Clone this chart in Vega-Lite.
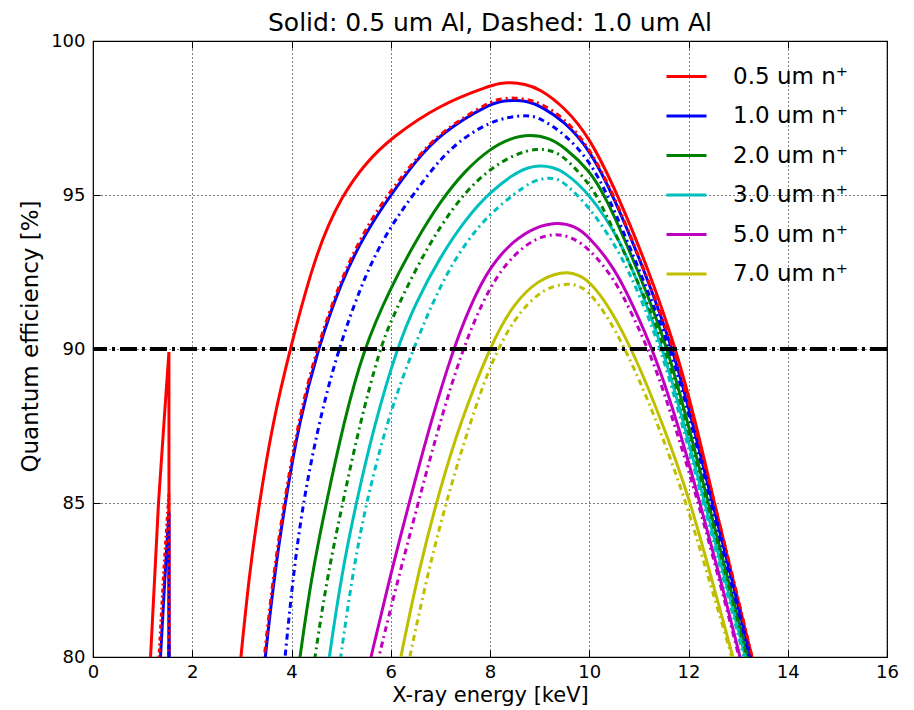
{
"$schema": "https://vega.github.io/schema/vega-lite/v6.json",
"width": 794, "height": 616,
"autosize": {"type": "none"},
"padding": {"left": 93, "top": 41, "right": 27, "bottom": 53},
"background": "white",
"title": {"text": "Solid: 0.5 um Al, Dashed: 1.0 um Al", "fontSize": 25, "font": "DejaVu Sans", "fontWeight": "normal", "color": "black", "offset": -4},
"config": {"font": "DejaVu Sans", "view": {"stroke": "black", "strokeWidth": 1.2}},
"data": {"values": [
{"s":"0.5","al":"0.5","p":"a","E":1.08,"Q":77.5},{"s":"0.5","al":"0.5","p":"a","E":1.16,"Q":80},{"s":"0.5","al":"0.5","p":"a","E":1.32,"Q":85},{"s":"0.5","al":"0.5","p":"a","E":1.43,"Q":87.6},{"s":"0.5","al":"0.5","p":"a","E":1.53,"Q":89.9},{"s":"0.5","al":"0.5","p":"a","E":1.535,"Q":70},
{"s":"0.5","al":"0.5","p":"b","E":2.9,"Q":78.7},{"s":"0.5","al":"0.5","p":"b","E":2.98,"Q":80},{"s":"0.5","al":"0.5","p":"b","E":3.15,"Q":82.7},{"s":"0.5","al":"0.5","p":"b","E":3.35,"Q":85},{"s":"0.5","al":"0.5","p":"b","E":3.62,"Q":87.6},{"s":"0.5","al":"0.5","p":"b","E":3.97,"Q":90},{"s":"0.5","al":"0.5","p":"b","E":4.5,"Q":93.2},{"s":"0.5","al":"0.5","p":"b","E":5.02,"Q":95},{"s":"0.5","al":"0.5","p":"b","E":5.5,"Q":96.05},{"s":"0.5","al":"0.5","p":"b","E":6.0,"Q":96.85},{"s":"0.5","al":"0.5","p":"b","E":7.0,"Q":97.95},{"s":"0.5","al":"0.5","p":"b","E":8.0,"Q":98.55},{"s":"0.5","al":"0.5","p":"b","E":8.2,"Q":98.63},{"s":"0.5","al":"0.5","p":"b","E":8.4,"Q":98.66},{"s":"0.5","al":"0.5","p":"b","E":8.7,"Q":98.6},{"s":"0.5","al":"0.5","p":"b","E":9.0,"Q":98.45},{"s":"0.5","al":"0.5","p":"b","E":9.5,"Q":97.85},{"s":"0.5","al":"0.5","p":"b","E":10.0,"Q":96.9},{"s":"0.5","al":"0.5","p":"b","E":10.58,"Q":95},{"s":"0.5","al":"0.5","p":"b","E":11.2,"Q":92.55},{"s":"0.5","al":"0.5","p":"b","E":11.75,"Q":90},{"s":"0.5","al":"0.5","p":"b","E":12.15,"Q":87.6},{"s":"0.5","al":"0.5","p":"b","E":12.52,"Q":85},{"s":"0.5","al":"0.5","p":"b","E":12.9,"Q":82.5},{"s":"0.5","al":"0.5","p":"b","E":13.28,"Q":80},{"s":"0.5","al":"0.5","p":"b","E":13.4,"Q":79.2},

{"s":"1.0","al":"0.5","p":"a","E":1.30,"Q":78.2},{"s":"1.0","al":"0.5","p":"a","E":1.36,"Q":80},{"s":"1.0","al":"0.5","p":"a","E":1.45,"Q":82.6},{"s":"1.0","al":"0.5","p":"a","E":1.53,"Q":84.7},{"s":"1.0","al":"0.5","p":"a","E":1.535,"Q":70},
{"s":"1.0","al":"0.5","p":"b","E":3.38,"Q":78.55},{"s":"1.0","al":"0.5","p":"b","E":3.47,"Q":80},{"s":"1.0","al":"0.5","p":"b","E":3.65,"Q":82.6},{"s":"1.0","al":"0.5","p":"b","E":3.87,"Q":85},{"s":"1.0","al":"0.5","p":"b","E":4.15,"Q":87.6},{"s":"1.0","al":"0.5","p":"b","E":4.53,"Q":90},{"s":"1.0","al":"0.5","p":"b","E":5.0,"Q":92.2},{"s":"1.0","al":"0.5","p":"b","E":5.5,"Q":93.8},{"s":"1.0","al":"0.5","p":"b","E":6.0,"Q":95.0},{"s":"1.0","al":"0.5","p":"b","E":6.5,"Q":96.1},{"s":"1.0","al":"0.5","p":"b","E":7.0,"Q":97.0},{"s":"1.0","al":"0.5","p":"b","E":8.0,"Q":97.98},{"s":"1.0","al":"0.5","p":"b","E":8.3,"Q":98.06},{"s":"1.0","al":"0.5","p":"b","E":8.55,"Q":98.08},{"s":"1.0","al":"0.5","p":"b","E":8.8,"Q":98.02},{"s":"1.0","al":"0.5","p":"b","E":9.0,"Q":97.9},{"s":"1.0","al":"0.5","p":"b","E":9.5,"Q":97.4},{"s":"1.0","al":"0.5","p":"b","E":10.0,"Q":96.5},{"s":"1.0","al":"0.5","p":"b","E":10.48,"Q":95},{"s":"1.0","al":"0.5","p":"b","E":11.1,"Q":92.6},{"s":"1.0","al":"0.5","p":"b","E":11.69,"Q":90},{"s":"1.0","al":"0.5","p":"b","E":12.1,"Q":87.5},{"s":"1.0","al":"0.5","p":"b","E":12.48,"Q":85},{"s":"1.0","al":"0.5","p":"b","E":12.88,"Q":82.5},{"s":"1.0","al":"0.5","p":"b","E":13.25,"Q":80},{"s":"1.0","al":"0.5","p":"b","E":13.37,"Q":79.2},

{"s":"2.0","al":"0.5","p":"b","E":4.08,"Q":78.9},{"s":"2.0","al":"0.5","p":"b","E":4.17,"Q":80},{"s":"2.0","al":"0.5","p":"b","E":4.4,"Q":82.6},{"s":"2.0","al":"0.5","p":"b","E":4.7,"Q":85},{"s":"2.0","al":"0.5","p":"b","E":5.05,"Q":87.6},{"s":"2.0","al":"0.5","p":"b","E":5.45,"Q":90},{"s":"2.0","al":"0.5","p":"b","E":6.0,"Q":92.0},{"s":"2.0","al":"0.5","p":"b","E":6.5,"Q":93.5},{"s":"2.0","al":"0.5","p":"b","E":7.0,"Q":94.8},{"s":"2.0","al":"0.5","p":"b","E":7.5,"Q":95.8},{"s":"2.0","al":"0.5","p":"b","E":8.0,"Q":96.5},{"s":"2.0","al":"0.5","p":"b","E":8.4,"Q":96.84},{"s":"2.0","al":"0.5","p":"b","E":8.81,"Q":96.97},{"s":"2.0","al":"0.5","p":"b","E":9.2,"Q":96.85},{"s":"2.0","al":"0.5","p":"b","E":9.5,"Q":96.55},{"s":"2.0","al":"0.5","p":"b","E":10.0,"Q":95.81},{"s":"2.0","al":"0.5","p":"b","E":10.32,"Q":95},{"s":"2.0","al":"0.5","p":"b","E":11.0,"Q":92.5},{"s":"2.0","al":"0.5","p":"b","E":11.59,"Q":90},{"s":"2.0","al":"0.5","p":"b","E":12.0,"Q":87.5},{"s":"2.0","al":"0.5","p":"b","E":12.4,"Q":85},{"s":"2.0","al":"0.5","p":"b","E":12.8,"Q":82.5},{"s":"2.0","al":"0.5","p":"b","E":13.2,"Q":80},{"s":"2.0","al":"0.5","p":"b","E":13.32,"Q":79.2},

{"s":"3.0","al":"0.5","p":"b","E":4.67,"Q":78.9},{"s":"3.0","al":"0.5","p":"b","E":4.76,"Q":80},{"s":"3.0","al":"0.5","p":"b","E":5.0,"Q":82.6},{"s":"3.0","al":"0.5","p":"b","E":5.3,"Q":85},{"s":"3.0","al":"0.5","p":"b","E":5.68,"Q":87.6},{"s":"3.0","al":"0.5","p":"b","E":6.12,"Q":90},{"s":"3.0","al":"0.5","p":"b","E":6.5,"Q":91.5},{"s":"3.0","al":"0.5","p":"b","E":7.0,"Q":93.0},{"s":"3.0","al":"0.5","p":"b","E":7.5,"Q":94.2},{"s":"3.0","al":"0.5","p":"b","E":8.0,"Q":95.1},{"s":"3.0","al":"0.5","p":"b","E":8.5,"Q":95.7},{"s":"3.0","al":"0.5","p":"b","E":8.75,"Q":95.89},{"s":"3.0","al":"0.5","p":"b","E":9.0,"Q":95.96},{"s":"3.0","al":"0.5","p":"b","E":9.25,"Q":95.91},{"s":"3.0","al":"0.5","p":"b","E":9.5,"Q":95.75},{"s":"3.0","al":"0.5","p":"b","E":10.0,"Q":95.06},{"s":"3.0","al":"0.5","p":"b","E":10.6,"Q":93.6},{"s":"3.0","al":"0.5","p":"b","E":11.0,"Q":92.1},{"s":"3.0","al":"0.5","p":"b","E":11.49,"Q":90},{"s":"3.0","al":"0.5","p":"b","E":11.92,"Q":87.5},{"s":"3.0","al":"0.5","p":"b","E":12.33,"Q":85},{"s":"3.0","al":"0.5","p":"b","E":12.74,"Q":82.5},{"s":"3.0","al":"0.5","p":"b","E":13.15,"Q":80},{"s":"3.0","al":"0.5","p":"b","E":13.27,"Q":79.2},

{"s":"5.0","al":"0.5","p":"b","E":5.5,"Q":79.25},{"s":"5.0","al":"0.5","p":"b","E":5.6,"Q":80},{"s":"5.0","al":"0.5","p":"b","E":6.0,"Q":82.7},{"s":"5.0","al":"0.5","p":"b","E":6.37,"Q":85},{"s":"5.0","al":"0.5","p":"b","E":6.8,"Q":87.6},{"s":"5.0","al":"0.5","p":"b","E":7.26,"Q":90},{"s":"5.0","al":"0.5","p":"b","E":7.6,"Q":91.4},{"s":"5.0","al":"0.5","p":"b","E":8.0,"Q":92.7},{"s":"5.0","al":"0.5","p":"b","E":8.5,"Q":93.55},{"s":"5.0","al":"0.5","p":"b","E":8.9,"Q":93.95},{"s":"5.0","al":"0.5","p":"b","E":9.35,"Q":94.12},{"s":"5.0","al":"0.5","p":"b","E":9.7,"Q":94.0},{"s":"5.0","al":"0.5","p":"b","E":10.0,"Q":93.65},{"s":"5.0","al":"0.5","p":"b","E":10.5,"Q":92.65},{"s":"5.0","al":"0.5","p":"b","E":10.86,"Q":91.5},{"s":"5.0","al":"0.5","p":"b","E":11.33,"Q":89.8},{"s":"5.0","al":"0.5","p":"b","E":11.8,"Q":87.5},{"s":"5.0","al":"0.5","p":"b","E":12.23,"Q":85},{"s":"5.0","al":"0.5","p":"b","E":12.65,"Q":82.5},{"s":"5.0","al":"0.5","p":"b","E":13.04,"Q":80},{"s":"5.0","al":"0.5","p":"b","E":13.16,"Q":79.2},

{"s":"7.0","al":"0.5","p":"b","E":6.08,"Q":79.0},{"s":"7.0","al":"0.5","p":"b","E":6.2,"Q":80},{"s":"7.0","al":"0.5","p":"b","E":6.59,"Q":83.0},{"s":"7.0","al":"0.5","p":"b","E":7.0,"Q":85.5},{"s":"7.0","al":"0.5","p":"b","E":7.4,"Q":87.6},{"s":"7.0","al":"0.5","p":"b","E":8.0,"Q":90.1},{"s":"7.0","al":"0.5","p":"b","E":8.5,"Q":91.55},{"s":"7.0","al":"0.5","p":"b","E":9.0,"Q":92.25},{"s":"7.0","al":"0.5","p":"b","E":9.3,"Q":92.43},{"s":"7.0","al":"0.5","p":"b","E":9.55,"Q":92.5},{"s":"7.0","al":"0.5","p":"b","E":9.8,"Q":92.4},{"s":"7.0","al":"0.5","p":"b","E":10.0,"Q":92.2},{"s":"7.0","al":"0.5","p":"b","E":10.4,"Q":91.4},{"s":"7.0","al":"0.5","p":"b","E":10.92,"Q":89.8},{"s":"7.0","al":"0.5","p":"b","E":11.5,"Q":87.5},{"s":"7.0","al":"0.5","p":"b","E":12.05,"Q":85},{"s":"7.0","al":"0.5","p":"b","E":12.47,"Q":82.5},{"s":"7.0","al":"0.5","p":"b","E":12.9,"Q":80},{"s":"7.0","al":"0.5","p":"b","E":13.02,"Q":79.2},

{"s":"0.5","al":"1.0","p":"a","E":1.27,"Q":78.2},{"s":"0.5","al":"1.0","p":"a","E":1.33,"Q":80},{"s":"0.5","al":"1.0","p":"a","E":1.43,"Q":82.9},{"s":"0.5","al":"1.0","p":"a","E":1.53,"Q":85.3},{"s":"0.5","al":"1.0","p":"a","E":1.535,"Q":70},
{"s":"0.5","al":"1.0","p":"b","E":3.36,"Q":78.6},{"s":"0.5","al":"1.0","p":"b","E":3.45,"Q":80},{"s":"0.5","al":"1.0","p":"b","E":3.63,"Q":82.6},{"s":"0.5","al":"1.0","p":"b","E":3.85,"Q":85},{"s":"0.5","al":"1.0","p":"b","E":4.13,"Q":87.6},{"s":"0.5","al":"1.0","p":"b","E":4.5,"Q":90},{"s":"0.5","al":"1.0","p":"b","E":5.0,"Q":92.3},{"s":"0.5","al":"1.0","p":"b","E":5.5,"Q":93.95},{"s":"0.5","al":"1.0","p":"b","E":6.0,"Q":95.15},{"s":"0.5","al":"1.0","p":"b","E":6.5,"Q":96.15},{"s":"0.5","al":"1.0","p":"b","E":7.0,"Q":97.05},{"s":"0.5","al":"1.0","p":"b","E":8.0,"Q":98.05},{"s":"0.5","al":"1.0","p":"b","E":8.25,"Q":98.13},{"s":"0.5","al":"1.0","p":"b","E":8.5,"Q":98.16},{"s":"0.5","al":"1.0","p":"b","E":8.75,"Q":98.1},{"s":"0.5","al":"1.0","p":"b","E":9.0,"Q":98.0},{"s":"0.5","al":"1.0","p":"b","E":9.5,"Q":97.5},{"s":"0.5","al":"1.0","p":"b","E":10.0,"Q":96.55},{"s":"0.5","al":"1.0","p":"b","E":10.5,"Q":95},{"s":"0.5","al":"1.0","p":"b","E":11.1,"Q":92.6},{"s":"0.5","al":"1.0","p":"b","E":11.72,"Q":90},{"s":"0.5","al":"1.0","p":"b","E":12.13,"Q":87.5},{"s":"0.5","al":"1.0","p":"b","E":12.52,"Q":85},{"s":"0.5","al":"1.0","p":"b","E":12.91,"Q":82.5},{"s":"0.5","al":"1.0","p":"b","E":13.28,"Q":80},{"s":"0.5","al":"1.0","p":"b","E":13.4,"Q":79.2},

{"s":"1.0","al":"1.0","p":"a","E":1.50,"Q":79.1},{"s":"1.0","al":"1.0","p":"a","E":1.53,"Q":80.4},{"s":"1.0","al":"1.0","p":"a","E":1.535,"Q":70},
{"s":"1.0","al":"1.0","p":"b","E":3.78,"Q":78.5},{"s":"1.0","al":"1.0","p":"b","E":3.87,"Q":80},{"s":"1.0","al":"1.0","p":"b","E":4.03,"Q":82.6},{"s":"1.0","al":"1.0","p":"b","E":4.23,"Q":85},{"s":"1.0","al":"1.0","p":"b","E":4.55,"Q":87.6},{"s":"1.0","al":"1.0","p":"b","E":4.94,"Q":90},{"s":"1.0","al":"1.0","p":"b","E":5.5,"Q":92.5},{"s":"1.0","al":"1.0","p":"b","E":6.0,"Q":94.0},{"s":"1.0","al":"1.0","p":"b","E":6.45,"Q":95},{"s":"1.0","al":"1.0","p":"b","E":7.0,"Q":96.2},{"s":"1.0","al":"1.0","p":"b","E":7.5,"Q":96.9},{"s":"1.0","al":"1.0","p":"b","E":8.0,"Q":97.36},{"s":"1.0","al":"1.0","p":"b","E":8.35,"Q":97.52},{"s":"1.0","al":"1.0","p":"b","E":8.65,"Q":97.58},{"s":"1.0","al":"1.0","p":"b","E":8.85,"Q":97.56},{"s":"1.0","al":"1.0","p":"b","E":9.0,"Q":97.5},{"s":"1.0","al":"1.0","p":"b","E":9.5,"Q":97.0},{"s":"1.0","al":"1.0","p":"b","E":10.0,"Q":96.12},{"s":"1.0","al":"1.0","p":"b","E":10.38,"Q":95},{"s":"1.0","al":"1.0","p":"b","E":11.0,"Q":92.6},{"s":"1.0","al":"1.0","p":"b","E":11.65,"Q":90},{"s":"1.0","al":"1.0","p":"b","E":12.07,"Q":87.5},{"s":"1.0","al":"1.0","p":"b","E":12.45,"Q":85},{"s":"1.0","al":"1.0","p":"b","E":12.85,"Q":82.5},{"s":"1.0","al":"1.0","p":"b","E":13.23,"Q":80},{"s":"1.0","al":"1.0","p":"b","E":13.35,"Q":79.2},

{"s":"2.0","al":"1.0","p":"b","E":4.38,"Q":78.9},{"s":"2.0","al":"1.0","p":"b","E":4.47,"Q":80},{"s":"2.0","al":"1.0","p":"b","E":4.72,"Q":82.6},{"s":"2.0","al":"1.0","p":"b","E":5.03,"Q":85},{"s":"2.0","al":"1.0","p":"b","E":5.38,"Q":87.6},{"s":"2.0","al":"1.0","p":"b","E":5.78,"Q":90},{"s":"2.0","al":"1.0","p":"b","E":6.0,"Q":90.9},{"s":"2.0","al":"1.0","p":"b","E":6.5,"Q":92.6},{"s":"2.0","al":"1.0","p":"b","E":7.0,"Q":94.0},{"s":"2.0","al":"1.0","p":"b","E":7.5,"Q":95.1},{"s":"2.0","al":"1.0","p":"b","E":8.0,"Q":95.85},{"s":"2.0","al":"1.0","p":"b","E":8.5,"Q":96.33},{"s":"2.0","al":"1.0","p":"b","E":8.95,"Q":96.52},{"s":"2.0","al":"1.0","p":"b","E":9.25,"Q":96.44},{"s":"2.0","al":"1.0","p":"b","E":9.5,"Q":96.25},{"s":"2.0","al":"1.0","p":"b","E":10.0,"Q":95.37},{"s":"2.0","al":"1.0","p":"b","E":10.2,"Q":94.85},{"s":"2.0","al":"1.0","p":"b","E":11.0,"Q":92.15},{"s":"2.0","al":"1.0","p":"b","E":11.55,"Q":90},{"s":"2.0","al":"1.0","p":"b","E":11.97,"Q":87.5},{"s":"2.0","al":"1.0","p":"b","E":12.38,"Q":85},{"s":"2.0","al":"1.0","p":"b","E":12.78,"Q":82.5},{"s":"2.0","al":"1.0","p":"b","E":13.18,"Q":80},{"s":"2.0","al":"1.0","p":"b","E":13.3,"Q":79.2},

{"s":"3.0","al":"1.0","p":"b","E":4.9,"Q":78.9},{"s":"3.0","al":"1.0","p":"b","E":4.99,"Q":80},{"s":"3.0","al":"1.0","p":"b","E":5.22,"Q":82.6},{"s":"3.0","al":"1.0","p":"b","E":5.5,"Q":85},{"s":"3.0","al":"1.0","p":"b","E":5.95,"Q":87.8},{"s":"3.0","al":"1.0","p":"b","E":6.45,"Q":90},{"s":"3.0","al":"1.0","p":"b","E":7.0,"Q":92.1},{"s":"3.0","al":"1.0","p":"b","E":7.5,"Q":93.45},{"s":"3.0","al":"1.0","p":"b","E":8.0,"Q":94.4},{"s":"3.0","al":"1.0","p":"b","E":8.5,"Q":95.05},{"s":"3.0","al":"1.0","p":"b","E":8.85,"Q":95.45},{"s":"3.0","al":"1.0","p":"b","E":9.15,"Q":95.57},{"s":"3.0","al":"1.0","p":"b","E":9.35,"Q":95.52},{"s":"3.0","al":"1.0","p":"b","E":9.5,"Q":95.4},{"s":"3.0","al":"1.0","p":"b","E":10.0,"Q":94.63},{"s":"3.0","al":"1.0","p":"b","E":10.6,"Q":93.2},{"s":"3.0","al":"1.0","p":"b","E":11.0,"Q":91.8},{"s":"3.0","al":"1.0","p":"b","E":11.45,"Q":90},{"s":"3.0","al":"1.0","p":"b","E":11.88,"Q":87.5},{"s":"3.0","al":"1.0","p":"b","E":12.3,"Q":85},{"s":"3.0","al":"1.0","p":"b","E":12.71,"Q":82.5},{"s":"3.0","al":"1.0","p":"b","E":13.12,"Q":80},{"s":"3.0","al":"1.0","p":"b","E":13.24,"Q":79.2},

{"s":"5.0","al":"1.0","p":"b","E":5.66,"Q":79.3},{"s":"5.0","al":"1.0","p":"b","E":5.76,"Q":80},{"s":"5.0","al":"1.0","p":"b","E":6.0,"Q":81.6},{"s":"5.0","al":"1.0","p":"b","E":6.55,"Q":85},{"s":"5.0","al":"1.0","p":"b","E":6.97,"Q":87.5},{"s":"5.0","al":"1.0","p":"b","E":7.44,"Q":90},{"s":"5.0","al":"1.0","p":"b","E":8.0,"Q":92.1},{"s":"5.0","al":"1.0","p":"b","E":8.5,"Q":93.1},{"s":"5.0","al":"1.0","p":"b","E":8.9,"Q":93.58},{"s":"5.0","al":"1.0","p":"b","E":9.31,"Q":93.76},{"s":"5.0","al":"1.0","p":"b","E":9.65,"Q":93.63},{"s":"5.0","al":"1.0","p":"b","E":10.0,"Q":93.26},{"s":"5.0","al":"1.0","p":"b","E":10.5,"Q":92.3},{"s":"5.0","al":"1.0","p":"b","E":10.86,"Q":91.15},{"s":"5.0","al":"1.0","p":"b","E":11.3,"Q":89.6},{"s":"5.0","al":"1.0","p":"b","E":11.75,"Q":87.4},{"s":"5.0","al":"1.0","p":"b","E":12.2,"Q":85},{"s":"5.0","al":"1.0","p":"b","E":12.62,"Q":82.5},{"s":"5.0","al":"1.0","p":"b","E":13.02,"Q":80},{"s":"5.0","al":"1.0","p":"b","E":13.14,"Q":79.2},

{"s":"7.0","al":"1.0","p":"b","E":6.26,"Q":79.0},{"s":"7.0","al":"1.0","p":"b","E":6.38,"Q":80},{"s":"7.0","al":"1.0","p":"b","E":6.77,"Q":82.9},{"s":"7.0","al":"1.0","p":"b","E":7.18,"Q":85.4},{"s":"7.0","al":"1.0","p":"b","E":7.58,"Q":87.5},{"s":"7.0","al":"1.0","p":"b","E":8.0,"Q":89.5},{"s":"7.0","al":"1.0","p":"b","E":8.5,"Q":91.05},{"s":"7.0","al":"1.0","p":"b","E":9.0,"Q":91.85},{"s":"7.0","al":"1.0","p":"b","E":9.3,"Q":92.05},{"s":"7.0","al":"1.0","p":"b","E":9.57,"Q":92.13},{"s":"7.0","al":"1.0","p":"b","E":9.8,"Q":92.05},{"s":"7.0","al":"1.0","p":"b","E":10.0,"Q":91.85},{"s":"7.0","al":"1.0","p":"b","E":10.4,"Q":91.0},{"s":"7.0","al":"1.0","p":"b","E":10.88,"Q":89.5},{"s":"7.0","al":"1.0","p":"b","E":11.45,"Q":87.3},{"s":"7.0","al":"1.0","p":"b","E":12.0,"Q":84.8},{"s":"7.0","al":"1.0","p":"b","E":12.45,"Q":82.3},{"s":"7.0","al":"1.0","p":"b","E":12.88,"Q":80},{"s":"7.0","al":"1.0","p":"b","E":13.0,"Q":79.2}
]},
"layer": [
{
"transform": [{"filter": "datum.al === '0.5' && datum.p === 'b'"}],
"mark": {"type": "line", "interpolate": "basis", "strokeWidth": 3, "clip": true},
"encoding": {
"x": {"field": "E", "type": "quantitative", "scale": {"domain": [0, 16], "nice": false, "zero": false},
"axis": {"title": "X-ray energy [keV]", "values": [0,2,4,6,8,10,12,14,16], "grid": true, "gridDash": [1,3], "gridColor": "black", "gridOpacity": 1, "gridWidth": 1, "domain": false, "tickSize": -7, "tickColor": "black", "tickWidth": 1, "labelPadding": 13, "labelFontSize": 18, "labelColor": "black", "labelFont": "DejaVu Sans", "titleFontSize": 21, "titleFont": "DejaVu Sans", "titleFontWeight": "normal", "titleColor": "black", "titlePadding": 3, "labelFlush": false}},
"y": {"field": "Q", "type": "quantitative", "scale": {"domain": [80, 100], "nice": false, "zero": false},
"axis": {"title": "Quantum efficiency [%]", "values": [80,85,90,95,100], "grid": true, "gridDash": [1,3], "gridColor": "black", "gridOpacity": 1, "gridWidth": 1, "domain": false, "tickSize": -7, "tickColor": "black", "tickWidth": 1, "labelPadding": 15, "labelFontSize": 18, "labelColor": "black", "labelFont": "DejaVu Sans", "titleFontSize": 23, "titleFont": "DejaVu Sans", "titleFontWeight": "normal", "titleColor": "black", "titlePadding": 8, "titleY": 295, "labelFlush": false}},
"color": {"field": "s", "type": "nominal",
"scale": {"domain": ["0.5","1.0","2.0","3.0","5.0","7.0"], "range": ["#ff0000","#0000ff","#008000","#00bfbf","#bf00bf","#bfbf00"]},
"legend": {"orient": "none", "legendX": 572, "legendY": 14, "title": null, "symbolType": "stroke", "symbolSize": 1600, "symbolStrokeWidth": 3, "labelFontSize": 23, "labelFont": "DejaVu Sans", "labelColor": "black", "labelOffset": 25, "rowPadding": 5.5, "padding": 0, "labelExpr": "datum.label + ' um n⁺'"}}
}
},
{
"transform": [{"filter": "datum.al === '0.5' && datum.p === 'a'"}],
"mark": {"type": "line", "interpolate": "linear", "strokeWidth": 3, "clip": true},
"encoding": {
"x": {"field": "E", "type": "quantitative", "axis": null},
"y": {"field": "Q", "type": "quantitative", "axis": null},
"color": {"field": "s", "type": "nominal", "legend": null}
}
},
{
"transform": [{"filter": "datum.al === '1.0' && datum.p === 'b'"}],
"mark": {"type": "line", "interpolate": "basis", "strokeWidth": 3, "strokeDash": [6,4,2,4], "clip": true},
"encoding": {
"x": {"field": "E", "type": "quantitative", "axis": null},
"y": {"field": "Q", "type": "quantitative", "axis": null},
"color": {"field": "s", "type": "nominal", "legend": null}
}
},
{
"transform": [{"filter": "datum.al === '1.0' && datum.p === 'a'"}],
"mark": {"type": "line", "interpolate": "linear", "strokeWidth": 3, "strokeDash": [4,3,2,3], "clip": true},
"encoding": {
"x": {"field": "E", "type": "quantitative", "axis": null},
"y": {"field": "Q", "type": "quantitative", "axis": null},
"color": {"field": "s", "type": "nominal", "legend": null}
}
},
{
"mark": {"type": "rule", "color": "black", "strokeWidth": 3, "strokeDash": [17,5,3,5]},
"encoding": {"y": {"datum": 90, "type": "quantitative", "axis": null}}
},
{
"transform": [{"filter": "datum.E === 3.47"}],
"mark": {"type": "point", "opacity": 0},
"encoding": {
"x": {"field": "E", "type": "quantitative", "axis": {"orient": "top", "labels": false, "title": null, "grid": false, "domain": false, "tickSize": -7, "tickColor": "black", "minExtent": 0, "maxExtent": 0, "values": [0,2,4,6,8,10,12,14,16]}},
"y": {"field": "Q", "type": "quantitative", "axis": {"orient": "right", "labels": false, "title": null, "grid": false, "domain": false, "tickSize": -7, "tickColor": "black", "minExtent": 0, "maxExtent": 0, "values": [80,85,90,95,100]}}
}
}
],
"resolve": {"axis": {"x": "independent", "y": "independent"}}
}
